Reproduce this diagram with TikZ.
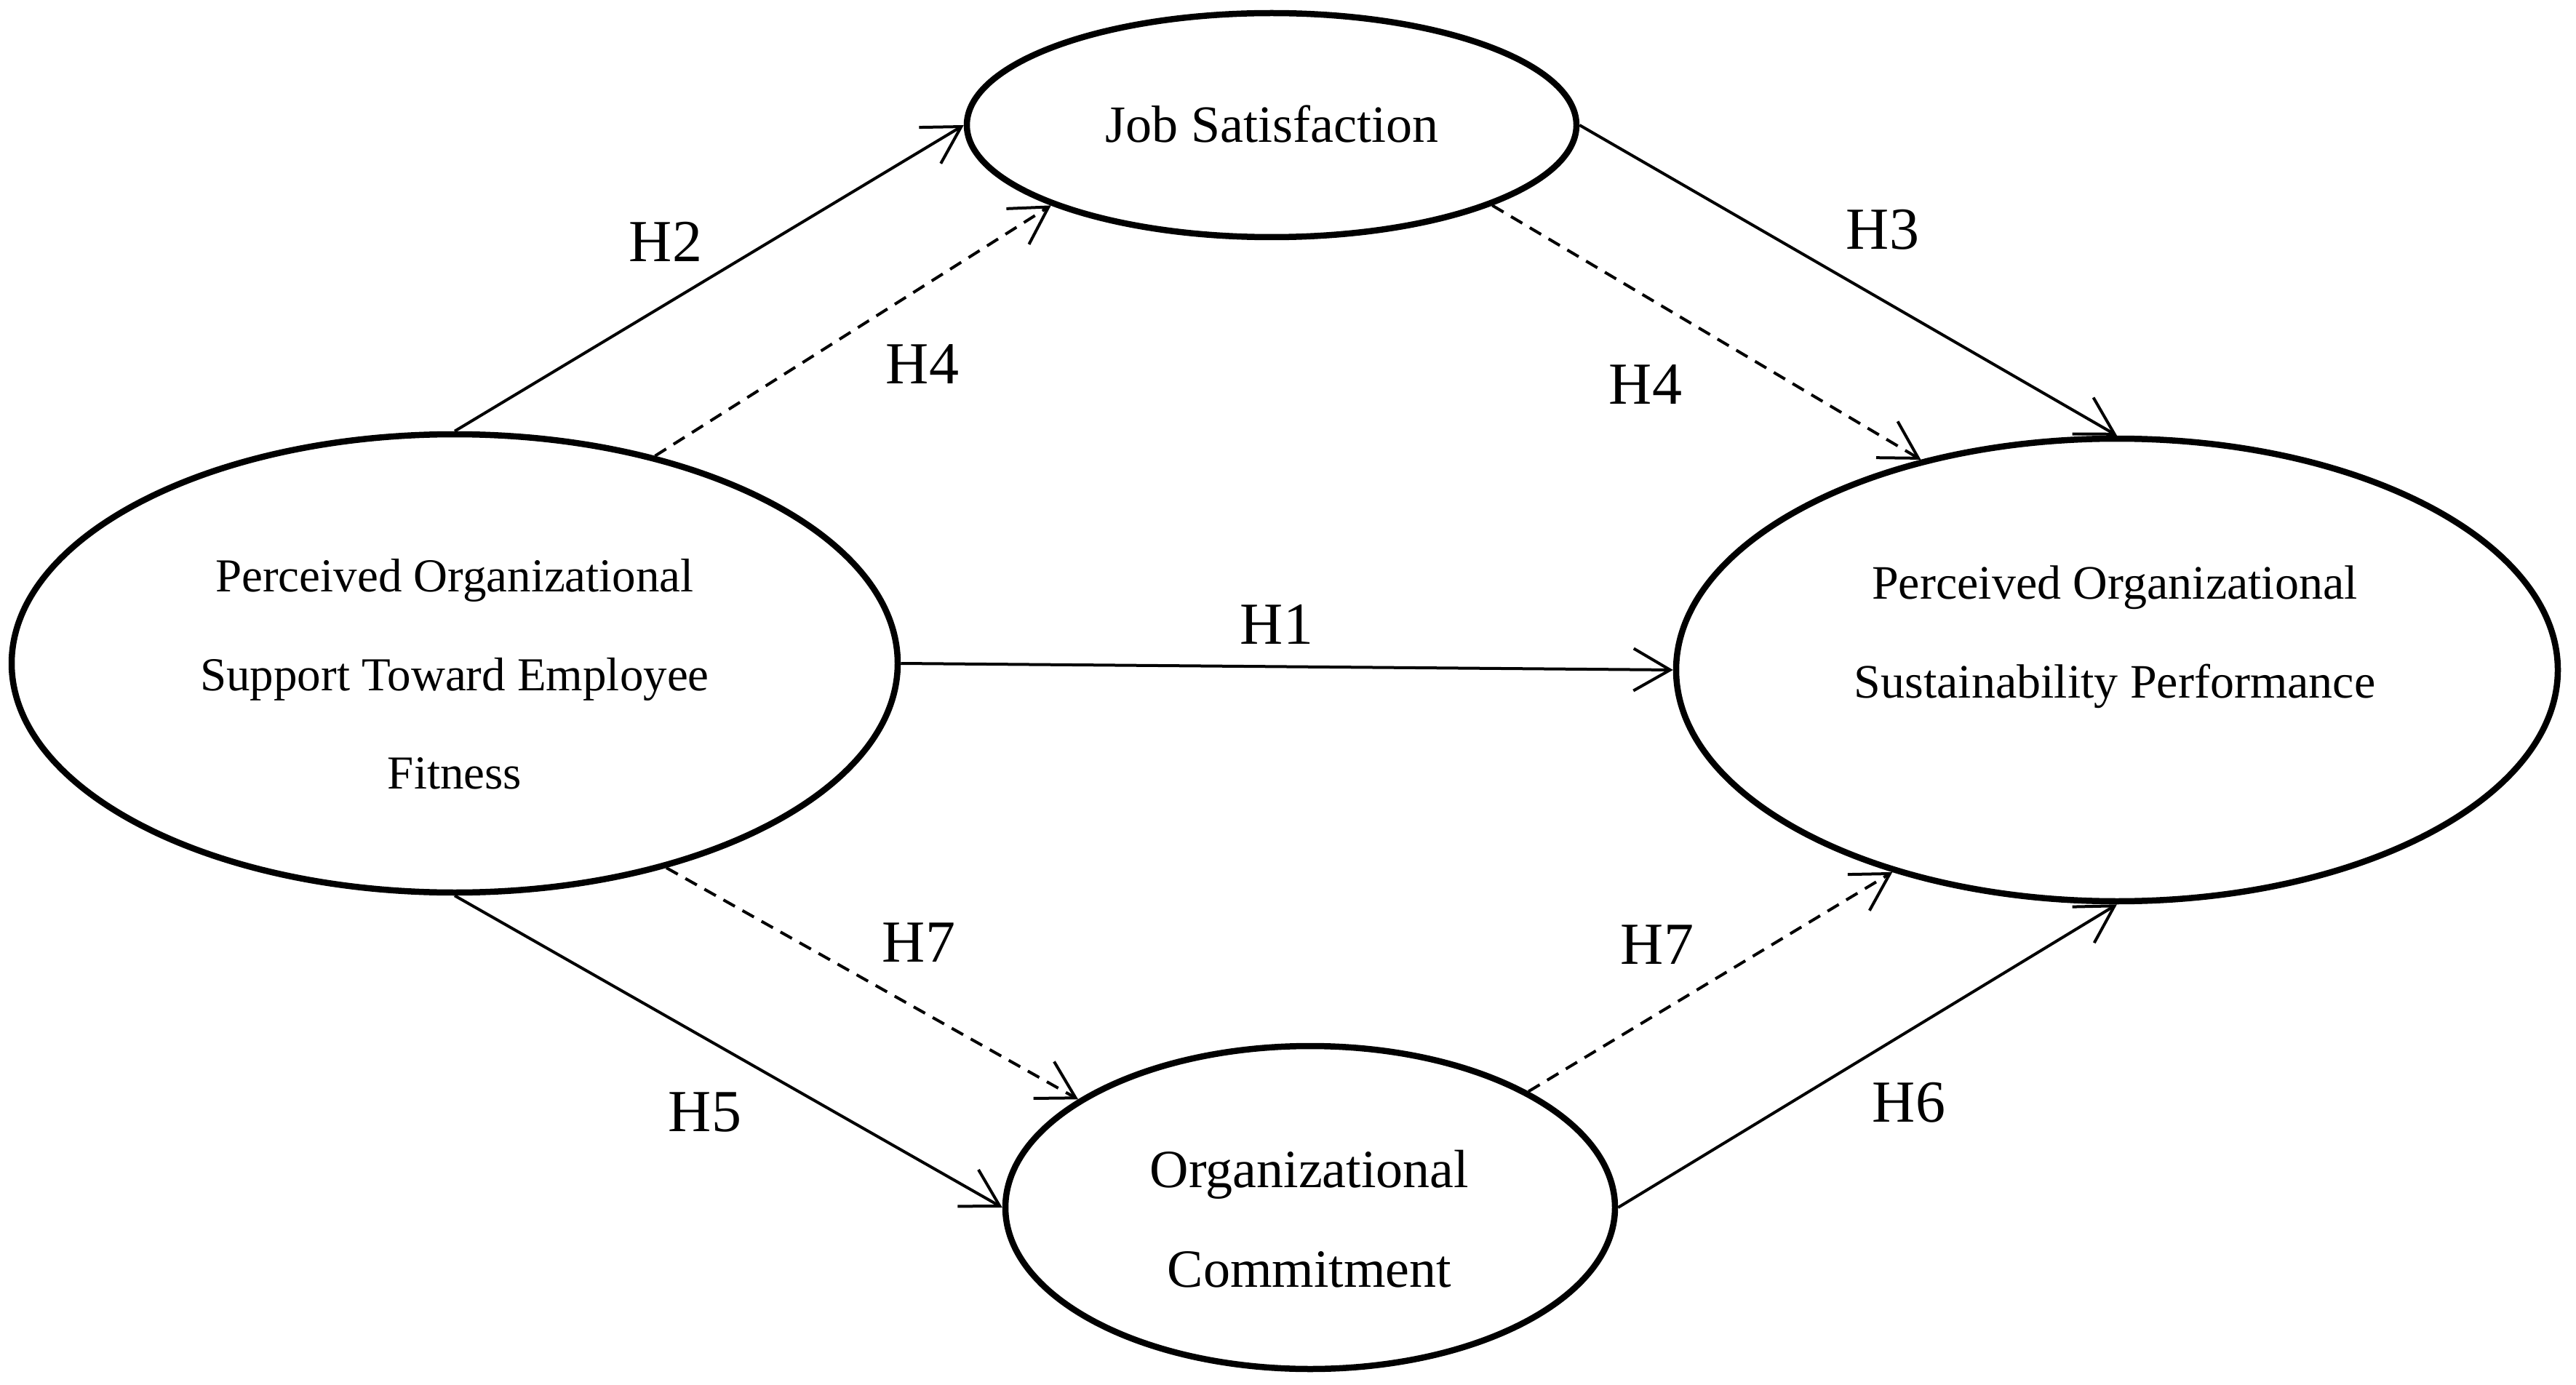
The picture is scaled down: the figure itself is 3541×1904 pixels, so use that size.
\documentclass[tikz,border=0pt]{standalone}
\usepackage{fontspec}
\setmainfont{Liberation Serif}
\usetikzlibrary{shapes.geometric,arrows.meta}
\begin{document}
\begin{tikzpicture}[x=0.1mm,y=-0.1mm,
  construct/.style={ellipse,draw,line width=0.85mm,inner sep=0pt},
  conn/.style={line width=0.4mm,-{Straight Barb[angle=60:5.8mm]}},
  dconn/.style={conn,dash pattern=on 1.8mm off 1.2mm},
  hlabel/.style={anchor=base,inner sep=0pt,font=\fontsize{8.2mm}{9mm}\selectfont},
  ctext/.style={align=center,inner sep=0pt}]
\useasboundingbox (0,0) rectangle (3541,1904);
% constructs
\node[construct,minimum width=121.8mm,minimum height=63mm] (posf) at (625,912) {};
\node[construct,minimum width=121.2mm,minimum height=63.6mm] (pos) at (2910,921) {};
\node[construct,minimum width=83.8mm,minimum height=30.8mm] (js) at (1748,172) {};
\node[construct,minimum width=83.8mm,minimum height=44.4mm] (oc) at (1801,1660) {};
% texts
\node[ctext,font=\fontsize{6.5mm}{13.55mm}\selectfont] (posft) at (625,927) {Perceived Organizational\\Support Toward Employee\\Fitness};
\node[ctext,font=\fontsize{6.6mm}{13.6mm}\selectfont] (post) at (2907,876) {Perceived Organizational\\Sustainability Performance};
\node[ctext,font=\fontsize{7.2mm}{8mm}\selectfont] (jst) at (1748,171) {Job Satisfaction};
\node[ctext,font=\fontsize{7.4mm}{13.7mm}\selectfont] (oct) at (1800,1676) {Organizational\\Commitment};
% connectors
\draw[conn] (posf.east) -- (pos.west);
\draw[conn] (posf.north) -- (js.west);
\draw[dconn] (posf.46.2) -- (js.200.1);
\draw[conn] (js.east) -- (pos.north);
\draw[dconn] (js.-20.7) -- (pos.133);
\draw[conn] (posf.south) -- (oc.west);
\draw[dconn] (posf.-44.1) -- (oc.155.1);
\draw[conn] (oc.east) -- (pos.south);
\draw[dconn] (oc.28.4) -- (pos.222.1);
% labels
\node[hlabel] (h1) at (1755,885) {H1};
\node[hlabel] (h2) at (915,360) {H2};
\node[hlabel] (h3) at (2588,343) {H3};
\node[hlabel] (h4a) at (1268,528) {H4};
\node[hlabel] (h4b) at (2262,555) {H4};
\node[hlabel] (h5) at (969,1555) {H5};
\node[hlabel] (h6) at (2624,1542) {H6};
\node[hlabel] (h7a) at (1263,1322) {H7};
\node[hlabel] (h7b) at (2278,1325) {H7};
\end{tikzpicture}
\end{document}
